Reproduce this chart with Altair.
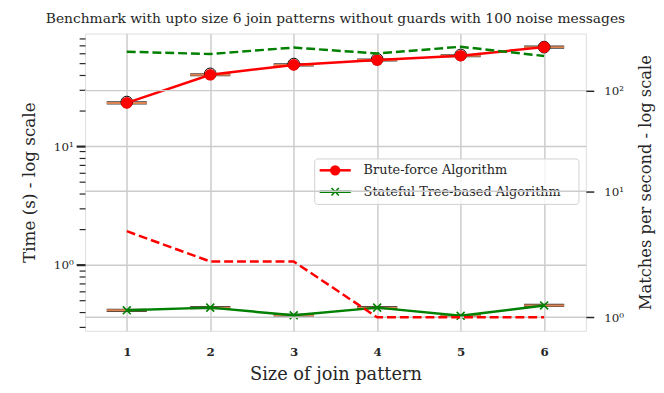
import math
import altair as alt
import pandas as pd

# ---------------- data ----------------
sizes = [1, 2, 3, 4, 5, 6]
brute_time = [23.1, 39.9, 48.3, 53.1, 57.7, 68.2]      # seconds (left, log)
brute_flier = [23.5, 40.6, 49.1, 53.9, 58.6, 68.2]     # boxplot outlier circles
tree_time = [0.414, 0.436, 0.376, 0.436, 0.372, 0.455]  # seconds (left, log)
brute_mps = [4, 2, 2, 1, 1, 1]                           # matches / s (right, symlog)
tree_mps = [244, 231, 268, 234, 273, 221]                # matches / s (right, symlog)

series_names = ["Brute-force Algorithm", "Stateful Tree-based Algorithm"]
left_major = [1, 10]
left_minor = [0.3, 0.4, 0.5, 0.6, 0.7, 0.8, 0.9, 2, 3, 4, 5, 6, 7, 8, 9,
              20, 30, 40, 50, 60, 70, 80]
right_ticks = [1, 10, 100]
SUP = {0: "\u2070", 1: "\u00b9", 2: "\u00b2"}

TITLE = "Benchmark with upto size 6 join patterns without guards with 100 noise messages"
X_TITLE = "Size of join pattern"
YL_TITLE = "Time (s) - log scale"
YR_TITLE = "Matches per second - log scale"

FONT = "DejaVu Serif"
TXT = "#262626"
RED = "#ff0000"
GREEN = "#008000"
MED = "#dd8452"
GRID = "#cccccc"
XMARK = "M-1,-1L1,1M-1,1L1,-1"

# matplotlib-style symlog (linthresh=2, linscale=1, base 10)
LT = 2.0
LA = 1.0 / (1.0 - 1.0 / 10.0)


def symlog(v):
    if abs(v) <= LT:
        return v * LA
    return LT * (LA + math.log10(abs(v) / LT))


SYMLOG_EXPR = f"datum.v <= {LT} ? datum.v * {LA} : {LT} * ({LA} + log(datum.v / {LT}) / LN10)"

df = pd.DataFrame({
    "size": sizes,
    "brute_time": brute_time,
    "brute_flier": brute_flier,
    "tree_time": tree_time,
    "brute_mps": brute_mps,
    "tree_mps": tree_mps,
})

# ---------------- scales / axes ----------------
x_scale = alt.Scale(domain=[0.5, 6.5], nice=False, zero=False)
x_axis = alt.Axis(values=sizes, format="d", grid=True, gridColor=GRID, gridWidth=1.5,
                  ticks=False, tickSize=0, domain=False, labelFont=FONT, labelFontSize=12,
                  labelFontWeight="bold", labelColor=TXT, labelPadding=16,
                  titleFont=FONT, titleFontSize=18, titleFontWeight="normal",
                  titleColor=TXT, titlePadding=8)

major_test = " || ".join(f"abs(datum.value - {m}) < 1e-9" for m in left_major)
left_label_expr = "".join(
    f"abs(datum.value - {m}) < 1e-9 ? '10{SUP[int(round(math.log10(m)))]}' : " for m in left_major
) + "''"
left_scale = alt.Scale(type="log", domain=[0.278, 88.8], nice=False, zero=False)
left_axis = alt.Axis(
    values=sorted(left_major + left_minor), labelExpr=left_label_expr,
    grid=True,
    gridColor={"condition": {"test": major_test, "value": GRID}, "value": "rgba(0,0,0,0)"},
    gridWidth=1.5, domain=False, tickColor=TXT,
    tickSize={"condition": {"test": major_test, "value": 9}, "value": 6},
    tickWidth={"condition": {"test": major_test, "value": 2.2}, "value": 1.2},
    labelPadding=3, labelFont=FONT, labelFontSize=12, labelColor=TXT,
    titleFont=FONT, titleFontSize=17, titleFontWeight="normal", titleColor=TXT,
    titlePadding=15)

right_vals = [symlog(v) for v in right_ticks]
right_label_expr = "".join(
    f"abs(datum.value - {t}) < 1e-6 ? '10{SUP[int(round(math.log10(v)))]}' : "
    for t, v in zip(right_vals, right_ticks)
) + "''"
right_scale = alt.Scale(domain=[0.843, 6.756], nice=False, zero=False)
right_axis = alt.Axis(orient="right", values=right_vals, labelExpr=right_label_expr,
                      grid=False, domain=False, tickColor=TXT, tickSize=8, tickWidth=1.5,
                      labelPadding=10, labelFont=FONT, labelFontSize=12, labelColor=TXT,
                      titleFont=FONT, titleFontSize=16.5, titleFontWeight="normal",
                      titleColor=TXT, titleAngle=270, titlePadding=30)


def X(field="size"):
    return alt.X(f"{field}:Q", scale=x_scale, axis=x_axis, title=X_TITLE)


def YL(field):
    return alt.Y(f"{field}:Q", scale=left_scale, axis=left_axis, title=YL_TITLE)


def YR(field):
    return alt.Y(f"{field}:Q", scale=right_scale, axis=right_axis, title=YR_TITLE)


base = alt.Chart(df)


# boxplot remnants (box edge + median line), half width 0.24
def box_layers(field):
    b = base.transform_calculate(x0="datum.size - 0.24", x1="datum.size + 0.24")
    edge = b.mark_rule(color="#3a3a3a", strokeWidth=3.2).encode(x=X("x0"), x2="x1:Q", y=YL(field))
    med = b.mark_rule(color=MED, strokeWidth=2).encode(x=X("x0"), x2="x1:Q", y=YL(field))
    return [edge, med]


fliers = base.mark_point(shape="circle", size=140, filled=False, stroke="black",
                         strokeWidth=1, opacity=1).encode(x=X(), y=YL("brute_flier"))
brute_line = base.mark_line(color=RED, strokeWidth=2.5).encode(x=X(), y=YL("brute_time"))
brute_pts = base.mark_point(shape="circle", size=140, filled=True, color=RED,
                            opacity=1).encode(x=X(), y=YL("brute_time"))
tree_line = base.mark_line(color=GREEN, strokeWidth=2.5).encode(x=X(), y=YL("tree_time"))
tree_pts = base.mark_point(shape=XMARK, size=64, filled=False, stroke=GREEN,
                           strokeWidth=1.6, opacity=1).encode(x=X(), y=YL("tree_time"))

# legend (belongs to the left axes group)
one = alt.Chart(pd.DataFrame({"k": [0]}))
LX0, LX1, LY0, LY1 = 232.5, 500.0, 127.0, 173.0
ROW = [138.5, 160.2]
leg_box = one.mark_rect(fill="white", fillOpacity=0.8, stroke="#d0d0d0", strokeWidth=1,
                        cornerRadius=3).encode(x=alt.value(LX0), x2=alt.value(LX1),
                                               y=alt.value(LY0), y2=alt.value(LY1))
leg_l1 = one.mark_rule(color=RED, strokeWidth=2.5).encode(
    x=alt.value(237.5), x2=alt.value(269), y=alt.value(ROW[0]))
leg_p1 = one.mark_point(shape="circle", size=110, filled=True, color=RED, opacity=1).encode(
    x=alt.value(253.2), y=alt.value(ROW[0]))
leg_l2 = one.mark_rule(color=GREEN, strokeWidth=2.5).encode(
    x=alt.value(237.5), x2=alt.value(269), y=alt.value(ROW[1]))
leg_p2 = one.mark_point(shape=XMARK, size=56, filled=False, stroke=GREEN, strokeWidth=1.6,
                        opacity=1).encode(x=alt.value(253.2), y=alt.value(ROW[1]))
leg_t1 = one.mark_text(align="left", baseline="middle", font=FONT, fontSize=13, color=TXT).encode(
    x=alt.value(282), y=alt.value(ROW[0]), text=alt.value(series_names[0]))
leg_t2 = one.mark_text(align="left", baseline="middle", font=FONT, fontSize=13, color=TXT).encode(
    x=alt.value(282), y=alt.value(ROW[1]), text=alt.value(series_names[1]))

left_group = alt.layer(
    *box_layers("brute_time"), fliers, brute_line, brute_pts,
    *box_layers("tree_time"), tree_line, tree_pts,
    leg_box, leg_l1, leg_p1, leg_l2, leg_p2, leg_t1, leg_t2,
)

# right (twin) axes group: its grid lines then the dashed throughput lines
right_grid = alt.Chart(pd.DataFrame({"v": right_ticks})).transform_calculate(
    t=SYMLOG_EXPR).mark_rule(color=GRID, strokeWidth=1.5).encode(y=YR("t"))
tree_dash = base.transform_calculate(v="datum.tree_mps").transform_calculate(
    t=SYMLOG_EXPR).mark_line(color=GREEN, strokeWidth=2.5, strokeDash=[9, 4]).encode(
    x=X(), y=YR("t"))
brute_dash = base.transform_calculate(v="datum.brute_mps").transform_calculate(
    t=SYMLOG_EXPR).mark_line(color=RED, strokeWidth=2.5, strokeDash=[9, 4]).encode(
    x=X(), y=YR("t"))
right_group = alt.layer(right_grid, tree_dash, brute_dash)

chart = alt.layer(left_group, right_group).resolve_scale(y="independent").properties(
    width=507, height=301,
    autosize=alt.AutoSizeParams(type="none"),
    padding={"left": 78, "top": 23.5, "right": 71, "bottom": 52},
    title=alt.TitleParams(TITLE, font=FONT, fontSize=14, fontWeight="normal", color=TXT,
                          anchor="middle", offset=8),
).configure_view(stroke=GRID, strokeWidth=2).configure(background="white")

chart.save("out.html", embed_options={"renderer": "svg", "actions": False})
